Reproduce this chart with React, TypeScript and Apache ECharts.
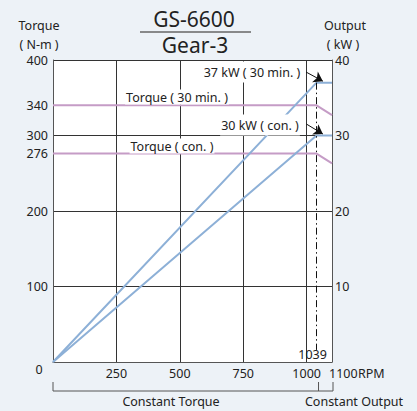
import React, { useEffect, useRef } from "react";
import * as echarts from "echarts";

// ---- data ----
const X_MAX = 1100;
const BASE_RPM = 1039;
const xTicks = [250, 500, 750, 1000];
const leftTickLabels = [100, 200, 276, 300, 340, 400];
const rightTickLabels = [10, 20, 30, 40];
const output30min = [[0, 0], [1039, 37], [1100, 37]];
const outputCon = [[0, 0], [1039, 30], [1100, 30]];
const torque30min = [[0, 340], [1039, 340], [1100, 327]];
const torqueCon = [[0, 276], [1039, 276], [1100, 263]];
const arrow30min = [[998, 38.4], [1064, 37.2]];
const arrowCon = [[1000, 31.5], [1064, 30.2]];
const dashLine = [[1039, 37], [1039, 1.6]];

// ---- layout ----
const W = 417, H = 411;
const G = { left: 53, top: 60, width: 279, height: 302 };
const FONT = "Noto Sans";
const FS = 12.5;
const TXT = "#222";
const LINE = "#555";
const BLUE = "#8db0d7";
const PURPLE = "#c59cc6";

const xPix = (v: number) => G.left + (v / X_MAX) * G.width;

export default function App() {
  const ref = useRef<HTMLDivElement>(null);
  useEffect(() => {
    if (!ref.current) return;
    const chart = echarts.init(ref.current, null, { renderer: "svg" });
    const txt = (text: string, x: number, y: number, size = FS, align = "center", bg?: string, pad: number[] = [0, 0]) => ({
      type: "text",
      x,
      y,
      z: 100,
      style: {
        text,
        fill: TXT,
        fontSize: size,
        fontFamily: FONT,
        fontWeight: "normal",
        lineHeight: Math.round(size),
        textAlign: align,
        textVerticalAlign: "middle",
        backgroundColor: bg,
        padding: pad,
      },
    });
    const bottomY = G.top + G.height;
    const labelStyle = { color: TXT, fontSize: FS, fontFamily: FONT, fontWeight: "normal", lineHeight: 12 };
    chart.setOption({
      animation: false,
      backgroundColor: "#edf2f7",
      textStyle: { fontFamily: FONT, fontWeight: "normal" },
      grid: { ...G, show: true, backgroundColor: "#ffffff", borderWidth: 0, outerBoundsMode: "none" },
      xAxis: {
        type: "value",
        min: 0,
        max: X_MAX,
        interval: 250,
        axisLine: { show: true, lineStyle: { color: LINE, width: 1 } },
        axisTick: { show: false },
        splitLine: { show: true, lineStyle: { color: "#333", width: 1 } },
        axisLabel: {
          ...labelStyle,
          customValues: xTicks,
          formatter: (v: number) => String(v),
          margin: 5,
        },
      },
      yAxis: [
        {
          type: "value",
          min: 0,
          max: 400,
          interval: 100,
          axisLine: { show: true, lineStyle: { color: LINE, width: 1 } },
          axisTick: { show: false },
          splitLine: { show: true, lineStyle: { color: "#333", width: 1 } },
          axisLabel: { ...labelStyle, customValues: leftTickLabels, formatter: (v: number) => String(v), margin: 5 },
        },
        {
          type: "value",
          min: 0,
          max: 40,
          interval: 10,
          position: "right",
          axisLine: { show: true, lineStyle: { color: LINE, width: 1 } },
          axisTick: { show: false },
          splitLine: { show: false },
          axisLabel: { ...labelStyle, customValues: rightTickLabels, formatter: (v: number) => String(v), margin: 3 },
        },
      ],
      series: [
        {
          type: "line",
          yAxisIndex: 0,
          data: torque30min,
          symbol: "none",
          lineStyle: { color: PURPLE, width: 2 },
          z: 3,
        },
        {
          type: "line",
          yAxisIndex: 0,
          data: torqueCon,
          symbol: "none",
          lineStyle: { color: PURPLE, width: 2 },
          z: 3,
        },
        {
          type: "line",
          yAxisIndex: 1,
          data: output30min,
          symbol: "none",
          lineStyle: { color: BLUE, width: 2 },
          z: 4,
          markLine: {
            silent: true,
            animation: false,
            label: { show: false },
            data: [
              [
                { coord: arrow30min[0], symbol: "none" },
                { coord: arrow30min[1], symbol: "arrow", symbolSize: 9 },
              ],
              [
                { coord: arrowCon[0], symbol: "none" },
                { coord: arrowCon[1], symbol: "arrow", symbolSize: 9 },
              ],
            ],
            lineStyle: { color: "#111", width: 1, type: "solid" },
            z: 6,
          },
        },
        {
          type: "line",
          yAxisIndex: 1,
          data: outputCon,
          symbol: "none",
          lineStyle: { color: BLUE, width: 2 },
          z: 4,
          markLine: {
            silent: true,
            animation: false,
            symbol: "none",
            label: { show: false },
            data: [[{ coord: dashLine[0] }, { coord: dashLine[1] }]],
            lineStyle: { color: "#111", width: 1, type: [7, 3, 1.5, 3] },
            z: 5,
          },
        },
      ],
      graphic: [
        txt("GS-6600", 194, 19, 21),
        { type: "line", z: 100, shape: { x1: 140, y1: 32, x2: 251, y2: 32 }, style: { stroke: "#666", lineWidth: 1.5 } },
        txt("Gear-3", 195, 45, 21),
        txt("Torque", 39, 25),
        txt("( N-m )", 39, 44),
        txt("Output", 345, 25),
        txt("( kW )", 343, 44),
        txt("0", 39, 369),
        txt("1100", 329, bottomY + 11, FS, "left"),
        txt("RPM", 358, bottomY + 11, FS, "left"),
        txt("1039", xPix(BASE_RPM) - 4, 354),
        txt("37 kW ( 30 min. )", 252, 72, FS, "center", "#ffffff", [4, 1]),
        txt("Torque ( 30 min. )", 177, 97, FS, "center", "#ffffff", [1, 1]),
        txt("30 kW ( con. )", 260, 125, FS, "center", "#ffffff", [4, 1]),
        txt("Torque ( con. )", 172, 146, FS, "center", "#ffffff", [1, 1]),
        {
          type: "polyline",
          z: 100,
          shape: { points: [[G.left, 382], [G.left, 391], [G.left + G.width + 1, 391], [G.left + G.width + 1, 382]] },
          style: { stroke: LINE, lineWidth: 1, fill: null },
        },
        {
          type: "line",
          z: 100,
          shape: { x1: xPix(BASE_RPM) + 2, y1: 382, x2: xPix(BASE_RPM) + 2, y2: 391 },
          style: { stroke: LINE, lineWidth: 1 },
        },
        txt("Constant Torque", 171, 401),
        txt("Constant Output", 354, 401),
      ],
    });
    return () => chart.dispose();
  }, []);
  return <div ref={ref} style={{ position: "fixed", left: 0, top: 0, width: W, height: H }} />;
}
